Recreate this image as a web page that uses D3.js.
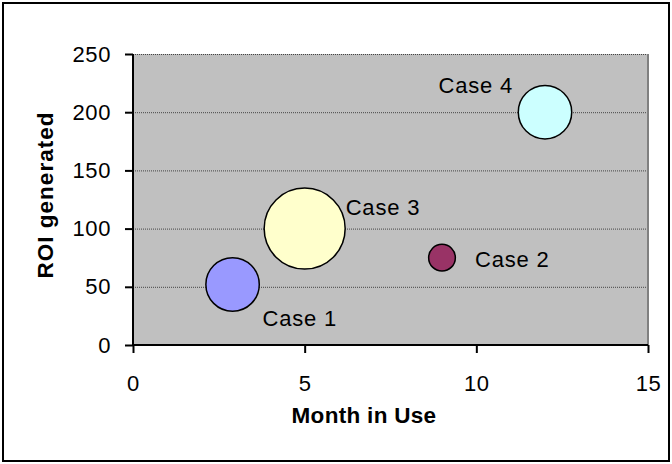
<!DOCTYPE html>
<html>
<head>
<meta charset="utf-8">
<script src="https://cdn.jsdelivr.net/npm/d3@7"></script>
<style>
  body { margin: 0; background: #fff; }
  svg text { font-family: Arial, "Liberation Sans", sans-serif; fill: #000; }
</style>
</head>
<body>
<div id="chart"></div>
<script>
// chart data
const caseNames = ["Case 1", "Case 2", "Case 3", "Case 4"];
const monthsInUse = [2.9, 9, 5, 12];
const roiGenerated = [52, 75, 100, 200];
const bubbleSizes = [20, 5, 46, 20];
const bubbleColors = ["#9999FF", "#993366", "#FFFFCC", "#CCFFFF"];
const xTicks = [0, 5, 10, 15];
const yTicks = [0, 50, 100, 150, 200, 250];

// label placement, relative to bubble centre (dragged labels in original)
const labelOffsets = [
	{ dx: 30, dy: 42, anchor: "start" },
	{ dx: 33, dy: 9, anchor: "start" },
	{ dx: 41, dy: -14, anchor: "start" },
	{ dx: -32, dy: -19, anchor: "end" }
];

const W = 672, H = 464;
const margin = { top: 54, right: 24, bottom: 119, left: 133 };
const width = W - margin.left - margin.right;
const height = H - margin.top - margin.bottom;

const svg = d3.select("#chart").append("svg")
	.attr("width", W)
	.attr("height", H);

// outer frame
svg.append("rect")
	.attr("x", 3).attr("y", 3)
	.attr("width", W - 6).attr("height", H - 6)
	.attr("fill", "#fff")
	.attr("stroke", "#000")
	.attr("stroke-width", 2);

const g = svg.append("g")
	.attr("transform", "translate(" + margin.left + "," + margin.top + ")");

const x = d3.scaleLinear().domain([0, 15]).range([0, width]);
const y = d3.scaleLinear().domain([0, 250]).range([height, 0]);
const r = d3.scaleSqrt().domain([0, d3.max(bubbleSizes)]).range([0, 40.5]);

// plot area
g.append("rect")
	.attr("width", width)
	.attr("height", height)
	.attr("fill", "#C0C0C0");

// gridlines
g.selectAll(".grid")
	.data(yTicks.filter(d => d > 0))
	.enter().append("line")
	.attr("class", "grid")
	.attr("x1", 0).attr("x2", width)
	.attr("y1", d => y(d) + 0.5).attr("y2", d => y(d) + 0.5)
	.attr("stroke", "#444")
	.attr("stroke-width", 1)
	.attr("stroke-dasharray", "1,1");

// right edge of plot area
g.append("line")
	.attr("x1", width).attr("x2", width)
	.attr("y1", 0).attr("y2", height)
	.attr("stroke", "#808080")
	.attr("stroke-width", 2);

// axes
const xAxis = d3.axisBottom(x).tickValues(xTicks).tickSize(8).tickPadding(22);
const yAxis = d3.axisLeft(y).tickValues(yTicks).tickSize(8).tickPadding(14);

const xg = g.append("g")
	.attr("transform", "translate(0," + height + ")")
	.call(xAxis);
const yg = g.append("g").call(yAxis);

[xg, yg].forEach(a => {
	a.select(".domain").attr("stroke", "#000").attr("stroke-width", 2);
	a.selectAll(".tick line").attr("stroke", "#000").attr("stroke-width", 2);
	a.selectAll(".tick text")
		.style("font-size", "22px")
		.style("letter-spacing", "0.6px");
});
xg.select(".domain").attr("d", "M0,0H" + width);
yg.select(".domain").attr("d", "M0," + height + "V0");

// bubbles, big ones first
const idx = d3.range(caseNames.length).sort((a, b) => bubbleSizes[b] - bubbleSizes[a]);

g.selectAll(".bubble")
	.data(idx)
	.enter().append("circle")
	.attr("class", "bubble")
	.attr("cx", i => x(monthsInUse[i]))
	.attr("cy", i => y(roiGenerated[i]))
	.attr("r", i => r(bubbleSizes[i]))
	.attr("fill", i => bubbleColors[i])
	.attr("stroke", "#000")
	.attr("stroke-width", 1.5);

g.selectAll(".case-label")
	.data(d3.range(caseNames.length))
	.enter().append("text")
	.attr("class", "case-label")
	.attr("x", i => x(monthsInUse[i]) + labelOffsets[i].dx)
	.attr("y", i => y(roiGenerated[i]) + labelOffsets[i].dy)
	.attr("text-anchor", i => labelOffsets[i].anchor)
	.style("font-size", "22px")
	.style("letter-spacing", "0.8px")
	.text(i => caseNames[i]);

// axis titles
svg.append("text")
	.attr("x", 364)
	.attr("y", 423)
	.attr("text-anchor", "middle")
	.style("font-size", "22.5px")
	.style("font-weight", "bold")
	.style("letter-spacing", "0.3px")
	.text("Month in Use");

svg.append("text")
	.attr("transform", "translate(53,195) rotate(-90)")
	.attr("text-anchor", "middle")
	.style("font-size", "22.5px")
	.style("font-weight", "bold")
	.style("letter-spacing", "1px")
	.text("ROI generated");
</script>
</body>
</html>
